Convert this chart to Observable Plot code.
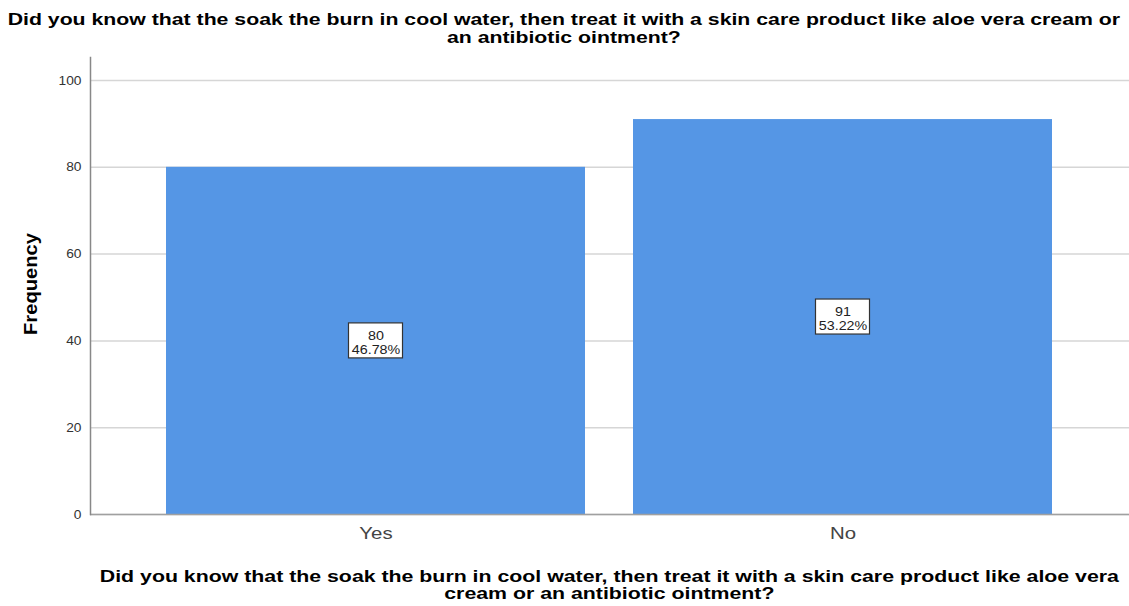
<!DOCTYPE html>
<html>
<head>
<meta charset="utf-8">
<script src="https://cdn.jsdelivr.net/npm/d3@7"></script>
<script src="https://cdn.jsdelivr.net/npm/@observablehq/plot@0.6"></script>
<style>
  html, body { margin: 0; padding: 0; background: #fff; }
  #wrap { position: relative; width: 1129px; height: 606px; overflow: hidden; font-family: "Liberation Sans", Arial, sans-serif; }
  .title { position: absolute; left: 0; width: 1129px; text-align: center; font-weight: bold; font-size: 17px; line-height: 18px; color: #000; transform: scaleX(1.25); transform-origin: 567px 0; white-space: nowrap; }
  .xlabel { position: absolute; left: 90px; width: 1039px; text-align: center; font-weight: bold; font-size: 17px; line-height: 17px; color: #000; transform: scaleX(1.253); transform-origin: 520px 0; white-space: nowrap; }
  .ylabel { position: absolute; left: 31px; top: 284px; font-weight: bold; font-size: 18px; color: #000; white-space: nowrap; transform: translate(-50%, -50%) rotate(-90deg) scaleX(1.12); }
  #chart { position: absolute; left: 0; top: 0; }
</style>
</head>
<body>
<div id="wrap">
  <div id="chart"></div>
  <div class="title" style="top:11px;">Did you know that the soak the burn in cool water, then treat it with a skin care product like aloe vera cream or<br>an antibiotic ointment?</div>
  <div class="xlabel" style="top:568px;">Did you know that the soak the burn in cool water, then treat it with a skin care product like aloe vera<br>cream or an antibiotic ointment?</div>
  <div class="ylabel">Frequency</div>
</div>
<script>
const categories = ["Yes", "No"];
const counts = [80, 91];
const yTicks = [0, 20, 40, 60, 80, 100];

const total = d3.sum(counts);
const data = categories.map((c, i) => ({
  cat: c,
  n: counts[i],
  pct: (counts[i] / total * 100).toFixed(2) + "%"
}));

const pxPerUnit = 4.34;
const boxHalf = 17.5 / pxPerUnit; // half box height in data units

const chart = Plot.plot({
  width: 1129,
  height: 606,
  marginTop: 57,
  marginBottom: 92,
  marginLeft: 90,
  marginRight: 0,
  style: { fontFamily: "Liberation Sans, Arial, sans-serif", background: "#fff", overflow: "visible" },
  x: { domain: categories, paddingInner: 48 / 468, paddingOuter: 0.162, label: null },
  y: { domain: [0, 105.3], label: null },
  marks: [
    Plot.gridY(yTicks, { stroke: "#d6d6d6", strokeOpacity: 1, strokeWidth: 1.5 }),
    Plot.barY(data, { x: "cat", y: "n", fill: "#5596e5" }),
    Plot.rect(data, {
      x: "cat",
      y1: d => d.n / 2 - boxHalf,
      y2: d => d.n / 2 + boxHalf,
      insetLeft: 182.5, insetRight: 182.5,
      fill: "#fff", stroke: "#333", strokeWidth: 1.2
    }),
    Plot.text(data, { x: "cat", y: d => d.n / 2, text: d => String(d.n), dy: -5.5, fontSize: 13, fill: "#222", className: "boxlab" }),
    Plot.text(data, { x: "cat", y: d => d.n / 2, text: "pct", dy: 8.5, fontSize: 13, fill: "#222", className: "boxlab" }),
    Plot.ruleY([0], { stroke: "#a0a0a0", strokeWidth: 1.5 }),
    Plot.frame({ anchor: "left", stroke: "#888", strokeWidth: 1.5 }),
    Plot.axisY(yTicks, { tickSize: 0, tickPadding: 9, fontSize: 12.5, fill: "#333", label: null }),
    Plot.axisX({ tickSize: 0, tickPadding: 12, fontSize: 17, fill: "#444", label: null })
  ]
});
document.getElementById("chart").appendChild(chart);

function stretch(nodes, k) {
  nodes.forEach(t => {
    const L = t.getComputedTextLength();
    t.setAttribute("textLength", L * k);
    t.setAttribute("lengthAdjust", "spacingAndGlyphs");
  });
}
stretch(chart.querySelectorAll('g[aria-label="y-axis tick label"] text'), 1.1);
stretch(chart.querySelectorAll('g[aria-label="x-axis tick label"] text'), 1.2);
stretch(chart.querySelectorAll('g.boxlab text, .boxlab text'), 1.1);
</script>
</body>
</html>
